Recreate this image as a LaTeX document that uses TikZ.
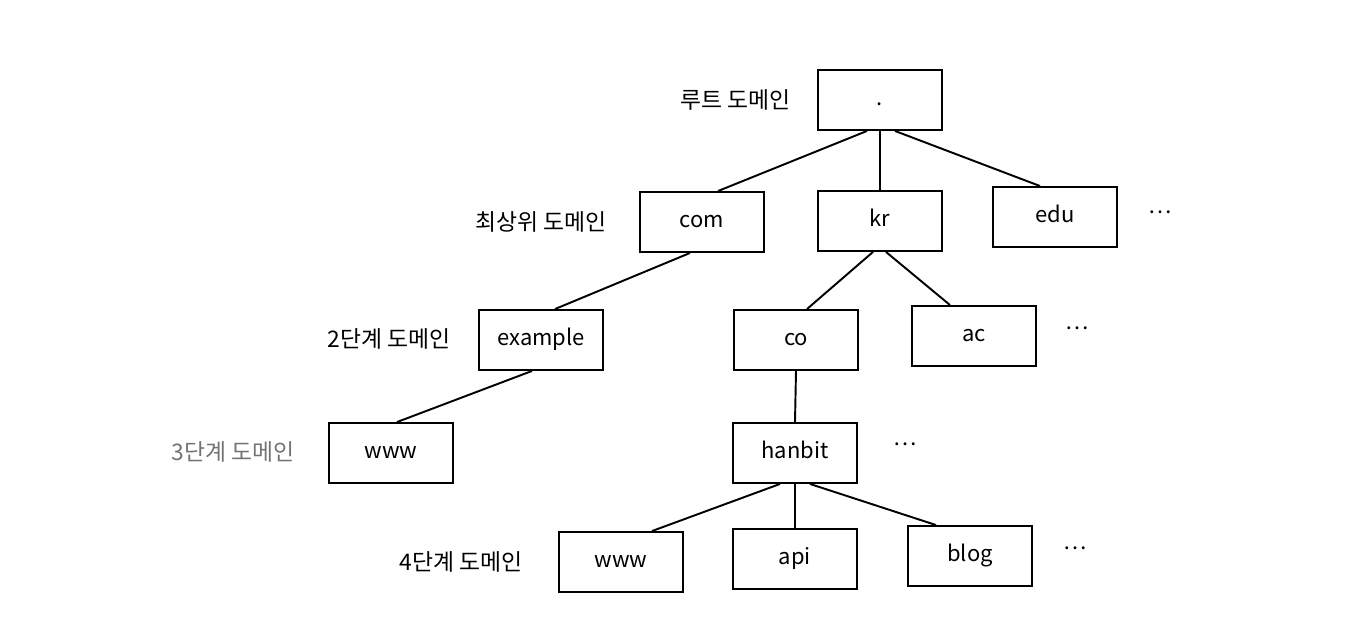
\documentclass[tikz,border=0pt]{standalone}
\usepackage{fontspec}
\setmainfont{Noto Sans CJK KR}
\usetikzlibrary{positioning,calc}

\begin{document}
\begin{tikzpicture}[
  x=0.02cm, y=-0.02cm,
  dom/.style={draw=black, line width=1.1pt, minimum width=2.48cm,
              minimum height=1.2cm, inner sep=0pt, text height=1.6ex, text depth=0.4ex,
              font=\fontsize{12.5}{14}\selectfont},
  lvl/.style={anchor=east, font=\fontsize{13}{15}\selectfont},
  more/.style={font=\fontsize{12.5}{14}\selectfont},
  link/.style={line width=1.1pt, black},
]
\useasboundingbox (0,0) rectangle (1367,635);

% ---- level labels ----
\node[lvl] (lroot) at (797,100) {루트 도메인};
\node[lvl] (ltop)  at (613,222) {최상위 도메인};
\node[lvl] (l2)    at (457,339) {2단계 도메인};
\node[lvl, black!55] (l3) at (301,452) {3단계 도메인};
\node[lvl] (l4)    at (529,562) {4단계 도메인};

% ---- domain boxes ----
\node[dom] (root)   at (880,100) {.};
\node[dom] (com)    at (702,222) {com};
\node[dom] (kr)     at (880,221) {kr};
\node[dom] (edu)    at (1055,217) {edu};
\node[dom] (example) at (541,340) {example};
\node[dom] (co)     at (796,340) {co};
\node[dom] (ac)     at (974,336) {ac};
\node[dom] (www3)   at (391,453) {www};
\node[dom] (hanbit) at (795,453) {hanbit};
\node[dom] (www4)   at (621,562) {www};
\node[dom] (api)    at (795,559) {api};
\node[dom] (blog)   at (970,556) {blog};

% ---- more siblings ----
\node[more] (m1) at (1160,212) {\ldots};
\node[more] (m2) at (1077,328) {\ldots};
\node[more] (m3) at (905,444) {\ldots};
\node[more] (m4) at (1075,548) {\ldots};

% ---- tree edges ----
\draw[link] ($(root.south)+(-13,0)$) -- ($(com.north)+(16,0)$);
\draw[link] (root.south) -- (kr.north);
\draw[link] ($(root.south)+(15,0)$) -- ($(edu.north)+(-15,0)$);
\draw[link] ($(com.south)+(-12,0)$) -- ($(example.north)+(14,0)$);
\draw[link] ($(kr.south)+(-7,0)$) -- ($(co.north)+(11,0)$);
\draw[link] ($(kr.south)+(6,0)$) -- ($(ac.north)+(-24,0)$);
\draw[link] ($(example.south)+(-9,0)$) -- ($(www3.north)+(6,0)$);
\draw[link] (co.south) -- (hanbit.north);
\draw[link] ($(hanbit.south)+(-15,0)$) -- ($(www4.north)+(31,0)$);
\draw[link] (hanbit.south) -- (api.north);
\draw[link] ($(hanbit.south)+(15,0)$) -- ($(blog.north)+(-34,0)$);

\end{tikzpicture}
\end{document}
